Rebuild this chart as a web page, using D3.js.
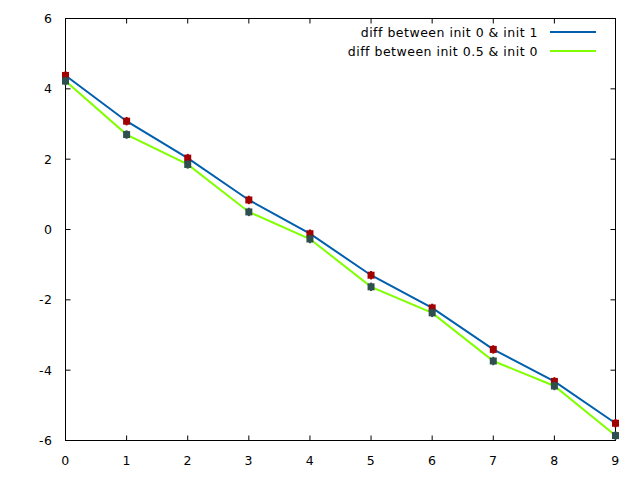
<!DOCTYPE html>
<html><head><meta charset="utf-8">
<script src="https://cdn.jsdelivr.net/npm/d3@7"></script>
<style>body{margin:0;background:#fff}svg{display:block}text{font-family:"DejaVu Sans";font-size:12.5px;letter-spacing:0.5px;fill:#000}</style>
</head><body>
<svg id="c" width="640" height="480"></svg>
<script>
const xs = [0,1,2,3,4,5,6,7,8,9];
const series1 = [4.38,3.08,2.03,0.84,-0.12,-1.30,-2.23,-3.41,-4.32,-5.51];
const series2 = [4.22,2.70,1.85,0.50,-0.27,-1.63,-2.37,-3.74,-4.45,-5.86];
const err = 0.12;
const xTicks = [0,1,2,3,4,5,6,7,8,9];
const yTicks = [-6,-4,-2,0,2,4,6];
const names = ["diff between init 0 & init 1","diff between init 0.5 & init 0"];
const lineColors = ["#0060ad","#80ff00"];
const pointColors = ["#a00000","#2f4f4f"];

const svg = d3.select("#c");
const L=65.5,R=615.5,T=18.5,B=440.5;
const x = d3.scaleLinear().domain([0,9]).range([L,R]);
const y = d3.scaleLinear().domain([-6,6]).range([B,T]);

const g = svg.append("g");
xTicks.forEach(t=>{
  g.append("line").attr("x1",x(t)).attr("x2",x(t)).attr("y1",B).attr("y2",B-5).attr("stroke","#000");
  g.append("line").attr("x1",x(t)).attr("x2",x(t)).attr("y1",T).attr("y2",T+5).attr("stroke","#000");
  g.append("text").attr("x",x(t)).attr("y",464.5).attr("text-anchor","middle").text(t);
});
yTicks.forEach(t=>{
  g.append("line").attr("x1",L).attr("x2",L+5).attr("y1",y(t)).attr("y2",y(t)).attr("stroke","#000");
  g.append("line").attr("x1",R).attr("x2",R-5).attr("y1",y(t)).attr("y2",y(t)).attr("stroke","#000");
  g.append("text").attr("x",52.5).attr("y",y(t)+4.5).attr("text-anchor","end").text(t);
});
g.append("rect").attr("x",L).attr("y",T).attr("width",R-L).attr("height",B-T).attr("fill","none").attr("stroke","#000");

const line = d3.line().x((d,i)=>x(xs[i])).y(d=>y(d));
[series1,series2].forEach((s,k)=>{
  svg.append("path").datum(s).attr("d",line).attr("fill","none").attr("stroke",lineColors[k]).attr("stroke-width",2);
});
[series1,series2].forEach((s,k)=>{
  const pg = svg.append("g");
  s.forEach((v,i)=>{
    pg.append("line").attr("x1",x(xs[i])).attr("x2",x(xs[i])).attr("y1",y(v-err)).attr("y2",y(v+err)).attr("stroke",pointColors[k]).attr("stroke-width",2);
    pg.append("rect").attr("x",x(xs[i])-3.5).attr("y",y(v)-3.5).attr("width",7).attr("height",7).attr("fill",pointColors[k]);
  });
});
names.forEach((n,k)=>{
  const yy = 32 + k*19;
  svg.append("text").attr("x",538).attr("y",yy+4.5).attr("text-anchor","end").text(n);
  svg.append("line").attr("x1",550).attr("x2",596).attr("y1",yy).attr("y2",yy).attr("stroke",lineColors[k]).attr("stroke-width",2);
});
</script>
</body></html>
